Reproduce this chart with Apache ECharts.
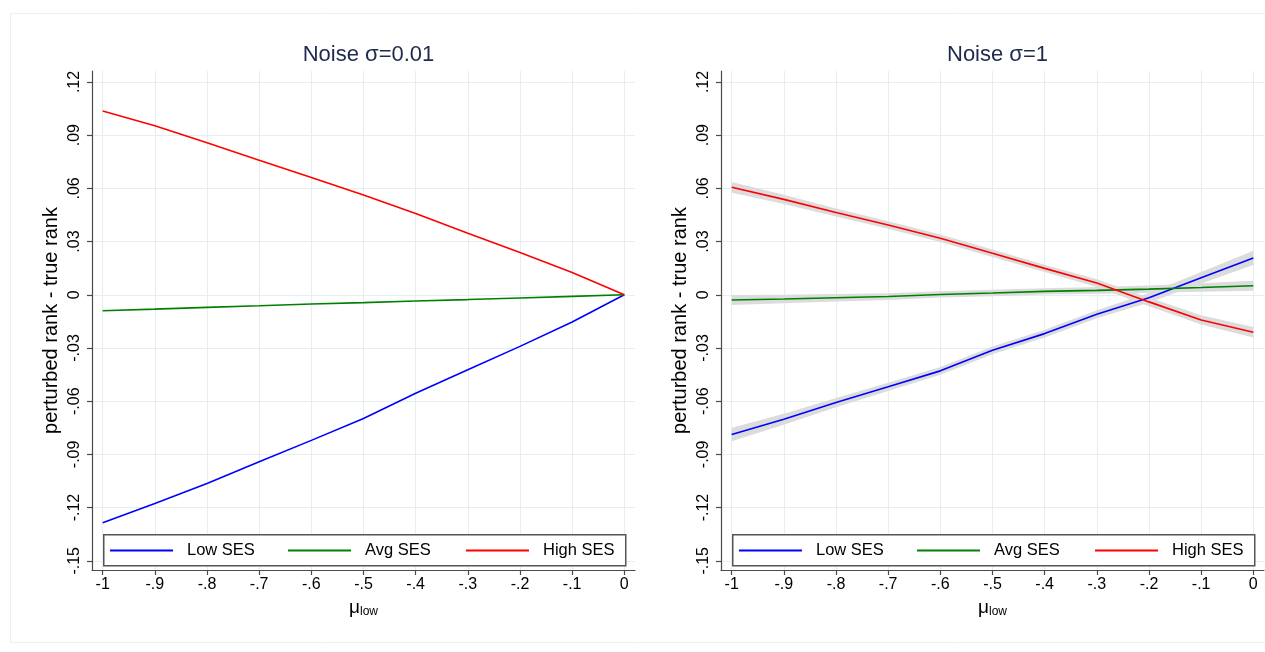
<!DOCTYPE html>
<html><head><meta charset="utf-8">
<script src="https://cdn.jsdelivr.net/npm/echarts@6/dist/echarts.min.js"></script>
<style>html,body{margin:0;padding:0;background:#fff}#c{width:1265px;height:652px}</style>
</head><body><div id="c"></div>
<script>
// ---- data ----
const muLow = [-1, -0.9, -0.8, -0.7, -0.6, -0.5, -0.4, -0.3, -0.2, -0.1, 0];
const xTicks = [-1, -0.9, -0.8, -0.7, -0.6, -0.5, -0.4, -0.3, -0.2, -0.1, 0];
const yTicks = [-0.15, -0.12, -0.09, -0.06, -0.03, 0, 0.03, 0.06, 0.09, 0.12];
const seriesNames = ['Low SES', 'Avg SES', 'High SES'];
const panelTitles = ['Noise σ=0.01', 'Noise σ=1'];

// Panel 1: noise sigma = 0.01
const lowSES1  = [-0.1285, -0.1177, -0.1064, -0.0942, -0.0821, -0.0698, -0.0555, -0.0423, -0.0291, -0.0153, 0];
const avgSES1  = [-0.0090, -0.0081, -0.0071, -0.0062, -0.0052, -0.0044, -0.0035, -0.0027, -0.0018, -0.0009, 0];
const highSES1 = [0.1037, 0.0953, 0.0857, 0.0759, 0.0662, 0.0563, 0.0459, 0.0347, 0.0238, 0.0126, 0];

// Panel 2: noise sigma = 1 (with confidence bands)
const lowSES2  = [-0.0788, -0.0702, -0.0608, -0.0519, -0.0429, -0.0313, -0.0219, -0.0110, -0.0017, 0.0096, 0.0208];
const lowSES2lo = [-0.0826, -0.0733, -0.0634, -0.0542, -0.0451, -0.0335, -0.0241, -0.0133, -0.0044, 0.0063, 0.0168];
const lowSES2hi = [-0.0750, -0.0671, -0.0582, -0.0496, -0.0407, -0.0291, -0.0197, -0.0087, 0.0010, 0.0129, 0.0248];
const avgSES2  = [-0.0029, -0.0024, -0.0017, -0.0010, 0.0002, 0.0010, 0.0019, 0.0025, 0.0032, 0.0041, 0.0051];
const avgSES2lo = [-0.0057, -0.0048, -0.0038, -0.0029, -0.0016, -0.0008, 0.0001, 0.0006, 0.0011, 0.0017, 0.0023];
const avgSES2hi = [-0.0001, 0.0000, 0.0004, 0.0009, 0.0020, 0.0028, 0.0037, 0.0044, 0.0053, 0.0065, 0.0079];
const highSES2 = [0.0606, 0.0538, 0.0464, 0.0394, 0.0319, 0.0234, 0.0149, 0.0066, -0.0040, -0.0142, -0.0211];
const highSES2lo = [0.0576, 0.0512, 0.0441, 0.0373, 0.0298, 0.0213, 0.0128, 0.0044, -0.0064, -0.0168, -0.0241];
const highSES2hi = [0.0636, 0.0564, 0.0487, 0.0415, 0.0340, 0.0255, 0.0170, 0.0088, -0.0016, -0.0116, -0.0181];

// ---- styling ----
const FONT = "'Liberation Sans', Arial, Helvetica, sans-serif";
const colors = ['#0000ff', '#008000', '#ff0000'];
const AXIS = '#4a4a4a';
const GRIDC = '#e6eef0';
const fmt = v => {
  if (Math.abs(v) < 1e-9) return '0';
  let s = String(+v.toFixed(2));
  return s.replace('0.', '.');
};
const pair = (xs, ys) => xs.map((x, i) => [x, ys[i]]);

const grids = [
  {left: 92, top: 71, width: 543, height: 499},
  {left: 721, top: 71, width: 543, height: 499}
];
const centers = grids.map(g => g.left + g.width / 2);

const xAxes = grids.map((g, i) => ({
  type: 'value', gridIndex: i, min: -1.0205, max: 0.0205,
  name: '{m|μ}{s|low}', nameLocation: 'middle', nameGap: 26,
  nameTextStyle: {rich: {
    m: {fontSize: 19, fontFamily: FONT, color: '#000'},
    s: {fontSize: 12, fontFamily: FONT, color: '#000', padding: [8, 0, 0, 0]}
  }},
  axisLine: {show: true, onZero: false, lineStyle: {color: AXIS, width: 1.2}},
  axisTick: {show: true, length: 5, customValues: xTicks, lineStyle: {color: AXIS, width: 1.2}},
  axisLabel: {customValues: xTicks, formatter: fmt, fontSize: 16, fontFamily: FONT, color: '#000', margin: 7},
  splitLine: {show: true, lineStyle: {color: GRIDC, width: 1.2}}
}));
const yAxes = grids.map((g, i) => ({
  type: 'value', gridIndex: i, min: -0.1552, max: 0.1262,
  name: 'perturbed rank - true rank', nameLocation: 'middle', nameGap: 31, nameRotate: 90,
  nameTextStyle: {fontSize: 20, fontFamily: FONT, color: '#000'},
  axisLine: {show: true, onZero: false, lineStyle: {color: AXIS, width: 1.2}},
  axisTick: {show: true, length: 5, customValues: yTicks, lineStyle: {color: AXIS, width: 1.2}},
  axisLabel: {customValues: yTicks, formatter: fmt, rotate: 90, fontSize: 16, fontFamily: FONT, color: '#000', margin: 9},
  splitLine: {show: true, lineStyle: {color: GRIDC, width: 1.2}}
}));

function band(idx, lo, hi) {
  return {
    type: 'custom', xAxisIndex: idx, yAxisIndex: idx, silent: true, z: 1,
    data: [[muLow[0], lo[0]]],
    renderItem: (params, api) => {
      const pts = [];
      muLow.forEach((x, i) => pts.push(api.coord([x, hi[i]])));
      for (let i = muLow.length - 1; i >= 0; i--) pts.push(api.coord([muLow[i], lo[i]]));
      return {type: 'polygon', shape: {points: pts}, style: {fill: '#dcdcdc', stroke: null}};
    }
  };
}
function line(idx, name, ys, color) {
  return {
    type: 'line', name, xAxisIndex: idx, yAxisIndex: idx, data: pair(muLow, ys),
    showSymbol: false, symbol: 'none', z: 3, color,
    lineStyle: {color, width: 1.6}, emphasis: {disabled: true}, animation: false
  };
}

// one legend component per key, laid out in three equal columns inside a framed box
const legendColOffsets = [18, 196, 374];
const legends = [];
grids.forEach(g => {
  seriesNames.forEach((n, k) => {
    legends.push({
      left: g.left + legendColOffsets[k], top: 542, z: 10,
      orient: 'horizontal', padding: 0,
      data: [{name: n, icon: 'rect'}],
      itemWidth: 63, itemHeight: 2,
      textStyle: {fontSize: 16.5, fontFamily: FONT, color: '#000', padding: [0, 0, 0, 9]},
      selectedMode: false
    });
  });
});
const legendFrames = grids.map(g => ({
  type: 'rect', left: g.left + 11, top: 534, z: 4, silent: true,
  shape: {width: 522, height: 31},
  style: {fill: '#fff', stroke: '#555', lineWidth: 1.5}
}));

const option = {
  animation: false,
  backgroundColor: '#fff',
  title: panelTitles.map((t, i) => ({
    text: t, left: centers[i], top: 39, textAlign: 'center',
    textStyle: {fontSize: 22, fontWeight: 'normal', fontFamily: FONT, color: '#1e2b4d'}
  })),
  graphic: [
    {type: 'rect', left: 8, top: 11, shape: {width: 1300, height: 629}, style: {fill: null, stroke: '#f0f0f0', lineWidth: 1}, silent: true, z: -10}
  ].concat(legendFrames),
  grid: grids,
  xAxis: xAxes,
  yAxis: yAxes,
  legend: legends,
  series: [
    line(0, seriesNames[0], lowSES1, colors[0]),
    line(0, seriesNames[1], avgSES1, colors[1]),
    line(0, seriesNames[2], highSES1, colors[2]),
    band(1, lowSES2lo, lowSES2hi),
    band(1, avgSES2lo, avgSES2hi),
    band(1, highSES2lo, highSES2hi),
    line(1, seriesNames[0], lowSES2, colors[0]),
    line(1, seriesNames[1], avgSES2, colors[1]),
    line(1, seriesNames[2], highSES2, colors[2])
  ]
};
const chart = echarts.init(document.getElementById('c'), null, {renderer: 'canvas'});
chart.setOption(option);
</script></body></html>
